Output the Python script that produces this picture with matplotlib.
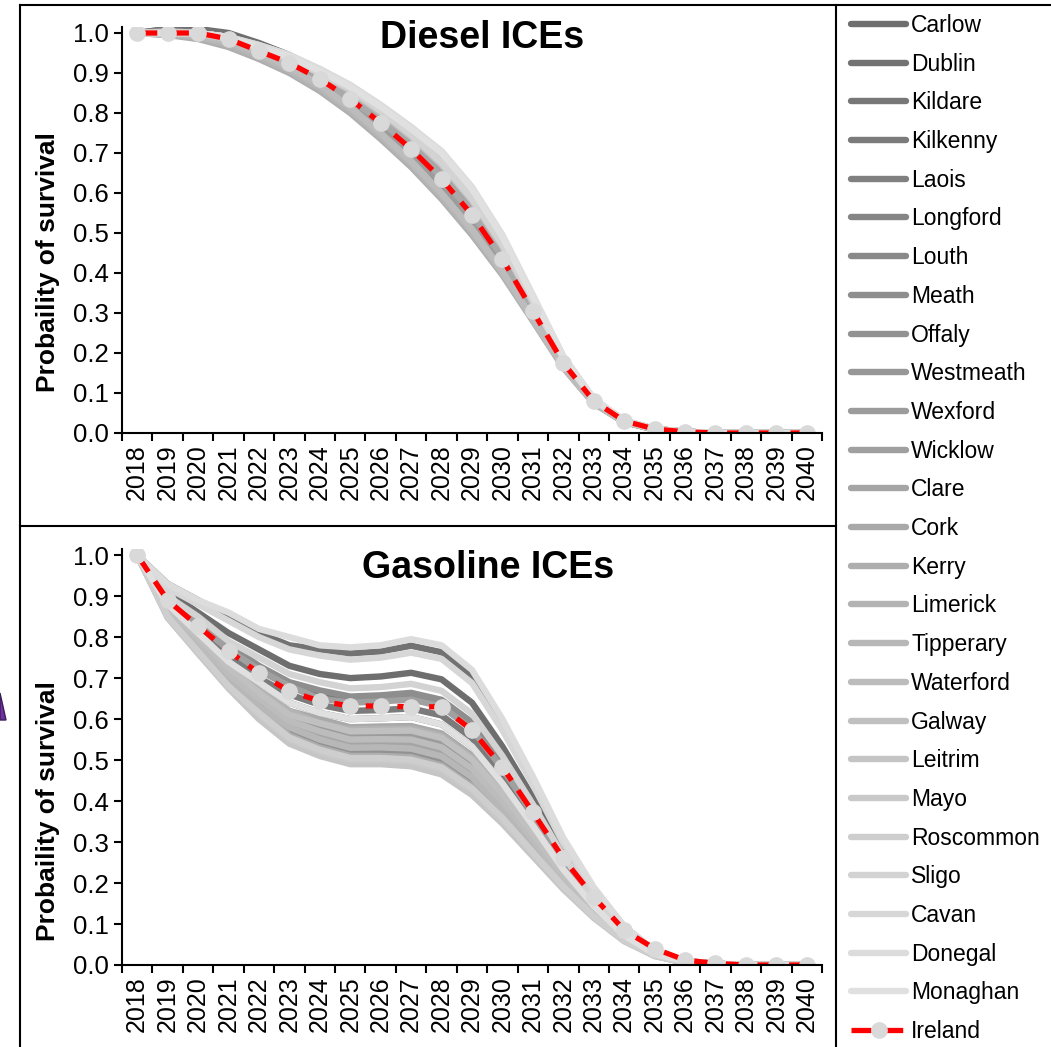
import matplotlib
matplotlib.use("Agg")
import matplotlib.pyplot as plt
from matplotlib.lines import Line2D
from matplotlib.patches import Polygon

plt.rcParams['font.family'] = ['Liberation Sans', 'DejaVu Sans']

years = list(range(2018, 2041))
counties = ["Carlow", "Dublin", "Kildare", "Kilkenny", "Laois", "Longford", "Louth",
            "Meath", "Offaly", "Westmeath", "Wexford", "Wicklow", "Clare", "Cork",
            "Kerry", "Limerick", "Tipperary", "Waterford", "Galway", "Leitrim", "Mayo",
            "Roscommon", "Sligo", "Cavan", "Donegal", "Monaghan"]

# diesel survival curves per county
diesel = {
    "Carlow":    [1.00, 1.01, 1.01, 1.00, 0.975, 0.945, 0.905, 0.855, 0.795, 0.725, 0.645, 0.55, 0.435, 0.30, 0.17, 0.075, 0.028, 0.009, 0.003, 0, 0, 0, 0],
    "Dublin":    [1.00, 1.01, 1.01, 0.995, 0.97, 0.94, 0.90, 0.85, 0.79, 0.72, 0.64, 0.55, 0.44, 0.305, 0.172, 0.077, 0.028, 0.009, 0.003, 0, 0, 0, 0],
    "Kildare":   [1.00, 1.005, 1.005, 0.99, 0.965, 0.935, 0.895, 0.845, 0.785, 0.715, 0.635, 0.545, 0.435, 0.305, 0.175, 0.078, 0.029, 0.01, 0.003, 0, 0, 0, 0],
    "Kilkenny":  [1.00, 1.00, 1.00, 0.985, 0.955, 0.92, 0.875, 0.82, 0.755, 0.685, 0.605, 0.515, 0.41, 0.29, 0.168, 0.076, 0.028, 0.009, 0.003, 0, 0, 0, 0],
    "Laois":     [1.00, 1.00, 0.995, 0.98, 0.955, 0.925, 0.885, 0.835, 0.775, 0.71, 0.635, 0.545, 0.435, 0.305, 0.175, 0.078, 0.029, 0.01, 0.003, 0, 0, 0, 0],
    "Longford":  [1.00, 1.00, 0.995, 0.98, 0.955, 0.925, 0.885, 0.835, 0.775, 0.71, 0.635, 0.545, 0.435, 0.305, 0.175, 0.078, 0.029, 0.01, 0.003, 0, 0, 0, 0],
    "Louth":     [1.00, 1.00, 0.995, 0.98, 0.955, 0.925, 0.885, 0.835, 0.775, 0.705, 0.63, 0.54, 0.43, 0.30, 0.172, 0.077, 0.028, 0.009, 0.003, 0, 0, 0, 0],
    "Meath":     [1.00, 1.005, 1.00, 0.985, 0.96, 0.93, 0.89, 0.84, 0.78, 0.71, 0.63, 0.54, 0.43, 0.30, 0.172, 0.077, 0.028, 0.009, 0.003, 0, 0, 0, 0],
    "Offaly":    [1.00, 1.00, 1.00, 0.985, 0.96, 0.93, 0.895, 0.85, 0.795, 0.735, 0.665, 0.575, 0.46, 0.32, 0.182, 0.08, 0.03, 0.01, 0.003, 0, 0, 0, 0],
    "Westmeath": [1.00, 1.00, 0.995, 0.98, 0.95, 0.92, 0.88, 0.83, 0.77, 0.705, 0.63, 0.54, 0.435, 0.305, 0.175, 0.078, 0.029, 0.01, 0.003, 0, 0, 0, 0],
    "Wexford":   [1.00, 1.00, 0.995, 0.98, 0.95, 0.92, 0.88, 0.83, 0.77, 0.70, 0.625, 0.535, 0.43, 0.30, 0.172, 0.077, 0.028, 0.009, 0.003, 0, 0, 0, 0],
    "Wicklow":   [1.00, 1.005, 1.00, 0.99, 0.96, 0.93, 0.89, 0.84, 0.78, 0.715, 0.64, 0.55, 0.44, 0.305, 0.175, 0.078, 0.029, 0.01, 0.003, 0, 0, 0, 0],
    "Clare":     [1.00, 1.00, 0.995, 0.98, 0.955, 0.925, 0.885, 0.84, 0.785, 0.72, 0.65, 0.56, 0.45, 0.315, 0.18, 0.08, 0.03, 0.01, 0.003, 0, 0, 0, 0],
    "Cork":      [1.00, 1.00, 0.995, 0.98, 0.955, 0.925, 0.885, 0.835, 0.78, 0.715, 0.64, 0.55, 0.44, 0.31, 0.176, 0.078, 0.029, 0.01, 0.003, 0, 0, 0, 0],
    "Kerry":     [1.00, 0.995, 0.985, 0.965, 0.935, 0.90, 0.855, 0.80, 0.735, 0.665, 0.585, 0.495, 0.395, 0.28, 0.163, 0.074, 0.027, 0.009, 0.003, 0, 0, 0, 0],
    "Limerick":  [1.00, 0.995, 0.99, 0.97, 0.94, 0.905, 0.86, 0.805, 0.74, 0.67, 0.59, 0.50, 0.40, 0.283, 0.165, 0.075, 0.028, 0.009, 0.003, 0, 0, 0, 0],
    "Tipperary": [1.00, 1.00, 0.99, 0.975, 0.945, 0.91, 0.865, 0.81, 0.745, 0.675, 0.595, 0.505, 0.40, 0.283, 0.165, 0.075, 0.028, 0.009, 0.003, 0, 0, 0, 0],
    "Waterford": [1.00, 1.00, 0.995, 0.98, 0.95, 0.915, 0.87, 0.815, 0.75, 0.68, 0.60, 0.51, 0.405, 0.285, 0.165, 0.075, 0.028, 0.009, 0.003, 0, 0, 0, 0],
    "Galway":    [1.00, 1.00, 1.00, 0.985, 0.96, 0.935, 0.90, 0.855, 0.80, 0.74, 0.67, 0.58, 0.465, 0.325, 0.185, 0.082, 0.03, 0.01, 0.003, 0, 0, 0, 0],
    "Leitrim":   [1.00, 1.00, 1.00, 0.99, 0.965, 0.94, 0.905, 0.865, 0.815, 0.755, 0.69, 0.60, 0.48, 0.335, 0.19, 0.084, 0.031, 0.01, 0.003, 0, 0, 0, 0],
    "Mayo":      [1.00, 1.00, 1.00, 0.99, 0.965, 0.94, 0.905, 0.86, 0.81, 0.75, 0.68, 0.59, 0.475, 0.33, 0.188, 0.083, 0.03, 0.01, 0.003, 0, 0, 0, 0],
    "Roscommon": [1.00, 1.00, 1.00, 0.99, 0.965, 0.94, 0.905, 0.865, 0.815, 0.76, 0.695, 0.605, 0.485, 0.34, 0.19, 0.084, 0.031, 0.01, 0.003, 0, 0, 0, 0],
    "Sligo":     [1.00, 1.00, 1.00, 0.985, 0.96, 0.935, 0.90, 0.86, 0.805, 0.745, 0.675, 0.585, 0.47, 0.33, 0.187, 0.082, 0.03, 0.01, 0.003, 0, 0, 0, 0],
    "Cavan":     [1.00, 1.00, 1.00, 0.99, 0.97, 0.945, 0.91, 0.87, 0.82, 0.765, 0.70, 0.61, 0.49, 0.34, 0.19, 0.085, 0.031, 0.01, 0.003, 0, 0, 0, 0],
    "Donegal":   [1.00, 1.00, 1.00, 0.99, 0.97, 0.945, 0.91, 0.87, 0.82, 0.765, 0.705, 0.615, 0.495, 0.345, 0.192, 0.085, 0.031, 0.01, 0.003, 0, 0, 0, 0],
    "Monaghan":  [1.00, 1.00, 1.00, 0.99, 0.965, 0.94, 0.905, 0.865, 0.815, 0.76, 0.70, 0.61, 0.49, 0.34, 0.19, 0.085, 0.031, 0.01, 0.003, 0, 0, 0, 0],
}
diesel_ireland = [1.00, 1.00, 1.00, 0.985, 0.955, 0.925, 0.885, 0.835, 0.775, 0.71, 0.635, 0.545, 0.435, 0.305, 0.175, 0.08, 0.03, 0.01, 0.003, 0, 0, 0, 0]

# gasoline survival curves per county
gasoline = {
    "Carlow":    [1.00, 0.91, 0.86, 0.81, 0.77, 0.73, 0.71, 0.70, 0.704, 0.713, 0.697, 0.64, 0.533, 0.409, 0.277, 0.17, 0.085, 0.032, 0.009, 0.003, 0, 0, 0],
    "Dublin":    [1.00, 0.93, 0.89, 0.85, 0.81, 0.78, 0.77, 0.76, 0.765, 0.779, 0.763, 0.704, 0.586, 0.45, 0.303, 0.186, 0.093, 0.034, 0.01, 0.003, 0, 0, 0],
    "Kildare":   [1.00, 0.89, 0.83, 0.77, 0.72, 0.68, 0.66, 0.645, 0.648, 0.654, 0.636, 0.581, 0.484, 0.371, 0.253, 0.156, 0.078, 0.029, 0.008, 0.003, 0, 0, 0],
    "Kilkenny":  [1.00, 0.89, 0.82, 0.76, 0.70, 0.66, 0.635, 0.62, 0.622, 0.626, 0.609, 0.554, 0.461, 0.354, 0.242, 0.149, 0.075, 0.028, 0.008, 0.002, 0, 0, 0],
    "Laois":     [1.00, 0.865, 0.79, 0.71, 0.65, 0.595, 0.57, 0.55, 0.551, 0.55, 0.531, 0.479, 0.399, 0.306, 0.211, 0.131, 0.066, 0.025, 0.007, 0.002, 0, 0, 0],
    "Longford":  [1.00, 0.86, 0.78, 0.70, 0.63, 0.58, 0.55, 0.53, 0.531, 0.528, 0.509, 0.458, 0.381, 0.292, 0.203, 0.126, 0.063, 0.024, 0.007, 0.002, 0, 0, 0],
    "Louth":     [1.00, 0.88, 0.81, 0.74, 0.69, 0.64, 0.615, 0.60, 0.602, 0.605, 0.587, 0.533, 0.443, 0.34, 0.233, 0.144, 0.072, 0.027, 0.008, 0.002, 0, 0, 0],
    "Meath":     [1.00, 0.90, 0.84, 0.78, 0.73, 0.69, 0.67, 0.655, 0.658, 0.664, 0.647, 0.592, 0.493, 0.378, 0.257, 0.158, 0.079, 0.03, 0.008, 0.003, 0, 0, 0],
    "Offaly":    [1.00, 0.855, 0.775, 0.69, 0.625, 0.57, 0.54, 0.52, 0.52, 0.518, 0.498, 0.447, 0.372, 0.285, 0.198, 0.123, 0.062, 0.023, 0.006, 0.002, 0, 0, 0],
    "Westmeath": [1.00, 0.86, 0.785, 0.71, 0.645, 0.59, 0.565, 0.545, 0.546, 0.545, 0.526, 0.474, 0.394, 0.303, 0.209, 0.129, 0.065, 0.025, 0.007, 0.002, 0, 0, 0],
    "Wexford":   [1.00, 0.87, 0.79, 0.72, 0.66, 0.60, 0.58, 0.56, 0.561, 0.561, 0.542, 0.49, 0.408, 0.313, 0.216, 0.133, 0.067, 0.025, 0.007, 0.002, 0, 0, 0],
    "Wicklow":   [1.00, 0.89, 0.83, 0.77, 0.72, 0.68, 0.65, 0.64, 0.643, 0.648, 0.631, 0.575, 0.479, 0.368, 0.251, 0.154, 0.077, 0.029, 0.008, 0.003, 0, 0, 0],
    "Clare":     [1.00, 0.86, 0.78, 0.705, 0.64, 0.585, 0.56, 0.54, 0.541, 0.539, 0.52, 0.468, 0.39, 0.299, 0.207, 0.128, 0.064, 0.024, 0.007, 0.002, 0, 0, 0],
    "Cork":      [1.00, 0.87, 0.80, 0.73, 0.67, 0.62, 0.60, 0.58, 0.582, 0.583, 0.565, 0.511, 0.426, 0.327, 0.225, 0.139, 0.07, 0.026, 0.007, 0.002, 0, 0, 0],
    "Kerry":     [1.00, 0.85, 0.77, 0.685, 0.62, 0.56, 0.53, 0.51, 0.51, 0.507, 0.487, 0.436, 0.363, 0.279, 0.194, 0.12, 0.061, 0.023, 0.006, 0.002, 0, 0, 0],
    "Limerick":  [1.00, 0.87, 0.80, 0.73, 0.67, 0.62, 0.59, 0.575, 0.576, 0.577, 0.559, 0.506, 0.421, 0.323, 0.222, 0.137, 0.069, 0.026, 0.007, 0.002, 0, 0, 0],
    "Tipperary": [1.00, 0.86, 0.78, 0.70, 0.63, 0.58, 0.55, 0.53, 0.531, 0.528, 0.509, 0.458, 0.381, 0.292, 0.203, 0.126, 0.063, 0.024, 0.007, 0.002, 0, 0, 0],
    "Waterford": [1.00, 0.865, 0.79, 0.71, 0.65, 0.595, 0.57, 0.55, 0.551, 0.55, 0.531, 0.479, 0.399, 0.306, 0.211, 0.131, 0.066, 0.025, 0.007, 0.002, 0, 0, 0],
    "Galway":    [1.00, 0.87, 0.80, 0.725, 0.665, 0.61, 0.59, 0.57, 0.571, 0.572, 0.554, 0.501, 0.417, 0.32, 0.22, 0.136, 0.068, 0.026, 0.007, 0.002, 0, 0, 0],
    "Leitrim":   [1.00, 0.847, 0.76, 0.675, 0.60, 0.54, 0.51, 0.49, 0.49, 0.485, 0.465, 0.415, 0.345, 0.265, 0.185, 0.115, 0.058, 0.022, 0.006, 0.002, 0, 0, 0],
    "Mayo":      [1.00, 0.85, 0.765, 0.68, 0.61, 0.55, 0.52, 0.50, 0.50, 0.496, 0.476, 0.426, 0.354, 0.272, 0.189, 0.118, 0.059, 0.022, 0.006, 0.002, 0, 0, 0],
    "Roscommon": [1.00, 0.85, 0.765, 0.68, 0.615, 0.555, 0.525, 0.505, 0.505, 0.501, 0.482, 0.431, 0.359, 0.275, 0.192, 0.119, 0.06, 0.023, 0.006, 0.002, 0, 0, 0],
    "Sligo":     [1.00, 0.90, 0.85, 0.79, 0.75, 0.71, 0.69, 0.675, 0.678, 0.686, 0.669, 0.613, 0.51, 0.392, 0.266, 0.164, 0.082, 0.03, 0.009, 0.003, 0, 0, 0],
    "Cavan":     [1.00, 0.92, 0.88, 0.84, 0.80, 0.77, 0.755, 0.745, 0.75, 0.762, 0.747, 0.688, 0.573, 0.44, 0.297, 0.182, 0.091, 0.034, 0.01, 0.003, 0, 0, 0],
    "Donegal":   [1.00, 0.93, 0.89, 0.86, 0.82, 0.80, 0.78, 0.775, 0.78, 0.795, 0.78, 0.72, 0.60, 0.46, 0.31, 0.19, 0.095, 0.035, 0.01, 0.003, 0, 0, 0],
    "Monaghan":  [1.00, 0.88, 0.81, 0.74, 0.69, 0.64, 0.615, 0.60, 0.602, 0.605, 0.587, 0.533, 0.443, 0.34, 0.233, 0.144, 0.072, 0.027, 0.008, 0.002, 0, 0, 0],
}
gasoline_ireland = [1.00, 0.89, 0.827, 0.766, 0.712, 0.668, 0.644, 0.632, 0.632, 0.63, 0.63, 0.573, 0.483, 0.373, 0.26, 0.166, 0.085, 0.04, 0.012, 0.004, 0, 0, 0]

# grey shades, darkest (Carlow) to lightest (Monaghan)
greys = [0.43 + 0.45 * i / (len(counties) - 1) for i in range(len(counties))]

W, H = 1051, 1047
fig = plt.figure(figsize=(W / 100, H / 100), dpi=100)

ax1 = fig.add_axes([122 / W, 1 - 433 / H, 700 / W, (433 - 27) / H])
ax2 = fig.add_axes([122 / W, 1 - 965 / H, 700 / W, (965 - 549) / H])

xs = list(range(len(years)))
for ax, data, irl in [(ax1, diesel, diesel_ireland), (ax2, gasoline, gasoline_ireland)]:
    for name, g in zip(counties, greys):
        ax.plot(xs, data[name], color=str(g), lw=4.6, solid_joinstyle='round',
                solid_capstyle='round', label=name)
    ax.plot(xs, irl, color='red', lw=3.8, dashes=(3.8, 2.2), marker='o',
            markersize=11, markerfacecolor='#d9d9d9', markeredgecolor='#d9d9d9',
            label='Ireland')
    ax.set_xlim(-0.5, len(years) - 0.5)
    ax.set_ylim(0, 1.015)
    ax.set_yticks([i / 10 for i in range(11)])
    ax.set_yticklabels([f"{i / 10:.1f}" for i in range(11)], fontsize=18.5)
    ax.set_xticks([i - 0.5 for i in range(len(years) + 1)])
    ax.set_xticklabels([])
    ax.set_xticks(xs, minor=True)
    ax.set_xticklabels([str(y) for y in years], minor=True, rotation=90, fontsize=18)
    ax.tick_params(axis='x', which='minor', length=0, pad=8)
    ax.tick_params(axis='both', which='major', length=6, width=1.5, direction='out')
    for s in ['top', 'right']:
        ax.spines[s].set_visible(False)
    for s in ['left', 'bottom']:
        ax.spines[s].set_linewidth(1.5)
    ax.set_ylabel('Probaility of survival', fontsize=19, fontweight='bold')
    ax.patch.set_alpha(0)

ax1.yaxis.set_label_coords(-0.089, 0.42)
ax2.yaxis.set_label_coords(-0.089, 0.37)

fig.text(482 / W, 1 - 38 / H, 'Diesel ICEs', ha='center', va='center', fontsize=27, fontweight='bold')
fig.text(488 / W, 1 - 568 / H, 'Gasoline ICEs', ha='center', va='center', fontsize=27, fontweight='bold')

# frame lines
for (x0, y0, x1, y1) in [(20, 5, W, 5), (20, 5, 20, H), (20, 526, 836, 526), (836, 5, 836, H)]:
    fig.add_artist(Line2D([x0 / W, x1 / W], [1 - y0 / H, 1 - y1 / H], color='black', lw=1.5,
                          transform=fig.transFigure))

fig.add_artist(Polygon([(0, 1 - 693 / H), (6 / W, 1 - 720 / H), (0, 1 - 720 / H)],
                       closed=True, transform=fig.transFigure, facecolor='#7030a0',
                       edgecolor='#3c1d5c', lw=1))

handles, labels = ax2.get_legend_handles_labels()
fig.legend(handles, labels, loc='upper left', bbox_to_anchor=(851 / W, 1 - 14 / H),
           frameon=False, fontsize=16.5, handlelength=2.4, handletextpad=0.22,
           labelspacing=0.685, borderaxespad=0, borderpad=0, numpoints=1)

fig.savefig('out.png', dpi=100)
